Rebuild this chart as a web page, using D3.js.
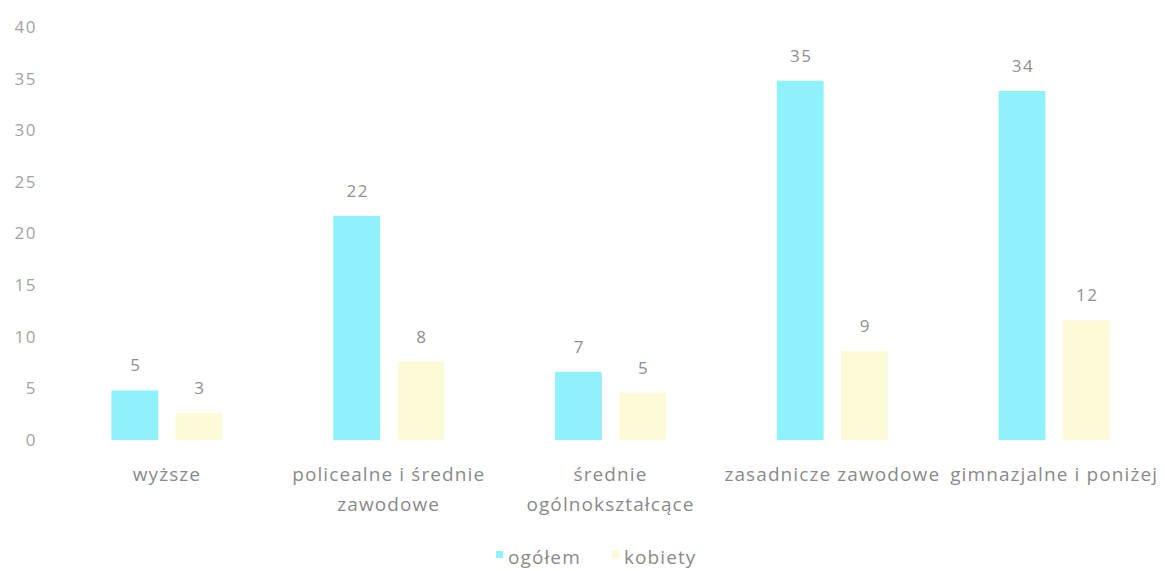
<!DOCTYPE html>
<html>
<head>
<meta charset="utf-8">
<script src="https://cdn.jsdelivr.net/npm/d3@7"></script>
<style>
  body { margin: 0; background: #fff; }
  text { font-family: "Open Sans", sans-serif; }
</style>
</head>
<body>
<div class="chart"></div>
<script>
var svgWidth = 1165;
var svgHeight = 571;

// data
var categories = ["wyższe", "policealne i średnie zawodowe", "średnie ogólnokształcące", "zasadnicze zawodowe", "gimnazjalne i poniżej"];
var categoryLines = [["wyższe"], ["policealne i średnie", "zawodowe"], ["średnie", "ogólnokształcące"], ["zasadnicze zawodowe"], ["gimnazjalne i poniżej"]];
var seriesNames = ["ogółem", "kobiety"];
var ogolem = [4.8, 21.7, 6.6, 34.8, 33.8];
var kobiety = [2.6, 7.6, 4.6, 8.6, 11.6];
var yTicks = [0, 5, 10, 15, 20, 25, 30, 35, 40];

var colors = ["#8ef1fb", "#fdfad8"];

var margin = { top: 27, right: 0, bottom: 131, left: 56 };
var width = svgWidth - margin.left - margin.right;
var height = svgHeight - margin.top - margin.bottom;

var svg = d3.select(".chart")
  .append("svg")
  .attr("width", svgWidth)
  .attr("height", svgHeight);

var chartGroup = svg.append("g")
  .attr("transform", `translate(${margin.left}, ${margin.top})`);

var x0 = d3.scaleBand()
  .domain(categories)
  .range([0, width])
  .paddingInner(0)
  .paddingOuter(0);

var x1 = d3.scaleBand()
  .domain(seriesNames)
  .range([x0.bandwidth() * 0.25, x0.bandwidth() * 0.75])
  .paddingInner(0.27);

var y = d3.scaleLinear()
  .domain([0, 40])
  .range([height, 0]);

// y axis (labels only)
var leftAxis = d3.axisLeft(y).tickValues(yTicks).tickSize(0).tickPadding(19);
chartGroup.append("g")
  .call(leftAxis)
  .call(g => g.select(".domain").remove())
  .selectAll("text")
  .attr("fill", "#a3a3a3")
  .attr("font-size", "17px")
  .attr("letter-spacing", "1.5px");

var rows = categories.map((c, i) => ({ cat: c, values: [ogolem[i], kobiety[i]] }));
var fmt = d3.format(".0f");

var groups = chartGroup.selectAll(".grp")
  .data(rows)
  .enter()
  .append("g")
  .attr("transform", d => `translate(${x0(d.cat)}, 0)`);

groups.selectAll("rect")
  .data(d => d.values.map((v, j) => ({ s: seriesNames[j], v: v, j: j })))
  .enter()
  .append("rect")
  .attr("x", d => x1(d.s))
  .attr("y", d => y(d.v))
  .attr("width", x1.bandwidth())
  .attr("height", d => height - y(d.v))
  .attr("fill", d => colors[d.j]);

groups.selectAll(".val")
  .data(d => d.values.map((v, j) => ({ s: seriesNames[j], v: v })))
  .enter()
  .append("text")
  .attr("x", d => x1(d.s) + x1.bandwidth() / 2 + 1)
  .attr("y", d => y(d.v) - 19)
  .attr("text-anchor", "middle")
  .attr("fill", "#8f8f8f")
  .attr("font-size", "17px")
  .attr("letter-spacing", "1.5px")
  .text(d => fmt(d.v));

// category labels
var catLabels = chartGroup.append("g")
  .attr("transform", `translate(0, ${height})`);

categories.forEach((c, i) => {
  var t = catLabels.append("text")
    .attr("x", x0(c) + x0.bandwidth() / 2)
    .attr("y", 41)
    .attr("text-anchor", "middle")
    .attr("fill", "#8a8a8a")
    .attr("font-size", "19px")
    .attr("letter-spacing", "1.1px");
  categoryLines[i].forEach((line, k) => {
    t.append("tspan")
      .attr("x", x0(c) + x0.bandwidth() / 2)
      .attr("dy", k === 0 ? 0 : 30)
      .text(line);
  });
});

// legend
var legend = svg.append("g")
  .attr("transform", `translate(496, 557)`);

var legendX = [0, 116];
seriesNames.forEach((s, i) => {
  legend.append("rect")
    .attr("x", legendX[i])
    .attr("y", -6)
    .attr("width", 7)
    .attr("height", 7)
    .attr("fill", colors[i]);
  legend.append("text")
    .attr("x", legendX[i] + 12)
    .attr("y", 0)
    .attr("dy", "0.35em")
    .attr("fill", "#8a8a8a")
    .attr("font-size", "19px")
    .attr("letter-spacing", "1.1px")
    .text(s);
});
</script>
</body>
</html>
